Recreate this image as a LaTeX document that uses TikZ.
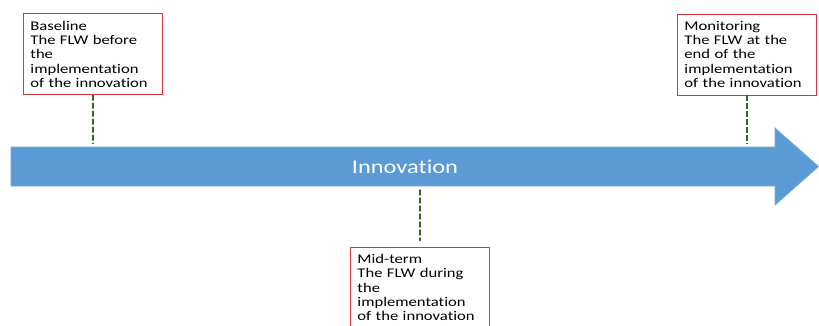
\documentclass[tikz,border=0pt]{standalone}
\usepackage{fontspec}
\setmainfont[FakeStretch=1.25,Ligatures=NoCommon]{Carlito}
\usepackage{xcolor}
\usepackage{tikz}
\usetikzlibrary{positioning,calc}

\definecolor{flowblue}{HTML}{5B9BD5}
\definecolor{boxred}{RGB}{214,52,64}
\definecolor{leadgreen}{RGB}{60,98,44}

\begin{document}
\begin{tikzpicture}[
  x=1pt, y=-1pt,
  every node/.style={font=\fontsize{13.3}{14.3}\selectfont},
  stage/.style={draw=boxred, line width=0.9pt, fill=white, anchor=north west,
    align=left, text width=125pt, minimum height=81pt,
    inner xsep=7pt, inner ysep=6pt},
  leader/.style={draw=leadgreen, line width=1.6pt, dash pattern=on 5pt off 3pt, line cap=round},
  flow/.style={fill=flowblue, draw=flowblue!85!white, line width=0.8pt}
]
\clip (0,0) rectangle (819,325);
% ---- timeline arrow ----
\path[flow] (11,147) -- (775,147) -- (775,128) -- (818.5,166.5)
  -- (775,205) -- (775,186) -- (11,186) -- cycle;
\node[text=white, font=\fontsize{19.5}{22}\selectfont] (innov) at (405,166.5) {Innovation};
\coordinate (shafttop) at (0,143.5);
\coordinate (shaftbot) at (0,190);
% ---- evaluation points ----
\node[stage] (baseline) at (23,13.3)
  {Baseline\\The FLW before\\the\\implementation\\of the innovation};
\node[stage] (monitor) at (677,13.5)
  {Monitoring\\The FLW at the\\end of the\\implementation\\of the innovation};
\node[stage] (midterm) at (350,246.5)
  {Mid-term\\The FLW during\\the\\implementation\\of the innovation};
% ---- leaders to the arrow ----
\draw[leader] (baseline.south) -- (baseline.south |- shafttop);
\draw[leader] (monitor.south) -- (monitor.south |- shafttop);
\draw[leader] (shaftbot -| midterm.north) -- ($(midterm.north)+(0,-6)$);
\end{tikzpicture}
\end{document}
